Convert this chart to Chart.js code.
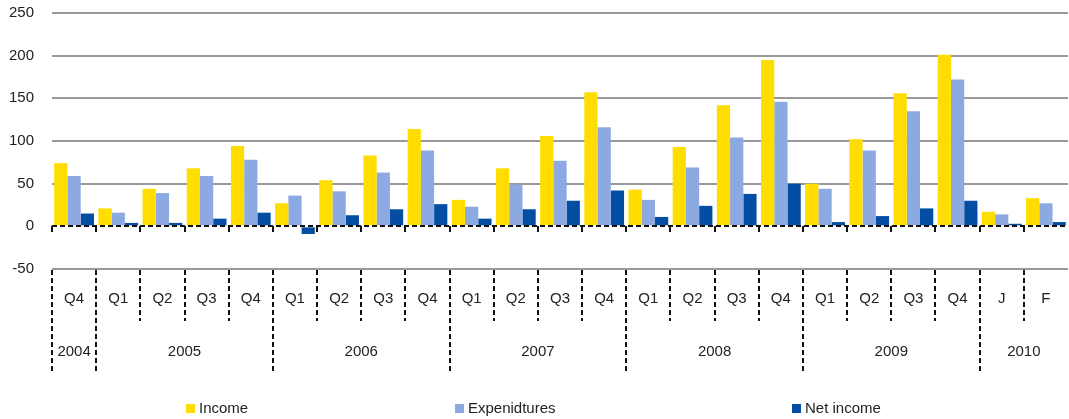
<!DOCTYPE html>
<html>
<head>
<meta charset="utf-8">
<script src="https://cdn.jsdelivr.net/npm/chart.js@4/dist/chart.umd.min.js"></script>
<style>
  html, body { margin: 0; padding: 0; background: #fff; }
  #wrap { position: relative; width: 1069px; height: 419px; }
  #legend { position: absolute; top: 399px; left: 0; width: 1069px; height: 20px;
            font: 15px "Liberation Sans", Arial, sans-serif; color: #222; }
  #legend span.item { position: absolute; top: 0; white-space: nowrap; }
  #legend span.box { display: inline-block; width: 9px; height: 9px; margin-right: 4px; vertical-align: 0px; }
</style>
</head>
<body>
<div id="wrap">
  <canvas id="chart" width="1069" height="419"></canvas>
  <div id="legend"></div>
</div>
<script>
// periods shown on the category axis
const periods = ['Q4', 'Q1', 'Q2', 'Q3', 'Q4', 'Q1', 'Q2', 'Q3', 'Q4', 'Q1', 'Q2', 'Q3', 'Q4',
                 'Q1', 'Q2', 'Q3', 'Q4', 'Q1', 'Q2', 'Q3', 'Q4', 'J', 'F'];
// years and how many periods fall in each
const years = ['2004', '2005', '2006', '2007', '2008', '2009', '2010'];
const yearSpans = [1, 4, 4, 4, 4, 4, 2];

const income = [74, 21, 44, 68, 94, 27, 54, 83, 114, 31, 68, 106, 157, 43, 93, 142, 195, 50, 102, 156, 201, 17, 33];
const expenditures = [59, 16, 39, 59, 78, 36, 41, 63, 89, 23, 49, 77, 116, 31, 69, 104, 146, 44, 89, 135, 172, 14, 27];
const netIncome = [15, 4, 4, 9, 16, -9, 13, 20, 26, 9, 20, 30, 42, 11, 24, 38, 50, 5, 12, 21, 30, 3, 5];

const yTicks = [-50, 0, 50, 100, 150, 200, 250];

const seriesNames = ['Income', 'Expenidtures', 'Net income'];
const seriesColors = ['#FFDD00', '#8CA9E1', '#034EA2'];

const FONT = '"Liberation Sans", Arial, sans-serif';

// dashed zero line, dividers under the axis and year labels
const axisDecor = {
    id: 'axisDecor',
    afterDatasetsDraw(chart) {
        const { ctx, scales: { x, y }, chartArea } = chart;
        const step = x.width / periods.length;
        const y0 = Math.round(y.getPixelForValue(0));
        const yBottom = chartArea.bottom;

        ctx.save();
        ctx.strokeStyle = '#111';
        ctx.lineWidth = 2;

        // zero line
        ctx.setLineDash([5, 3]);
        ctx.beginPath();
        ctx.moveTo(chartArea.left, y0);
        ctx.lineTo(chartArea.right, y0);
        ctx.stroke();

        // small ticks under zero line
        ctx.setLineDash([]);
        for (let i = 0; i < periods.length; i++) {
            const bx = Math.round(x.getPixelForValue(i) - step / 2);
            ctx.beginPath();
            ctx.moveTo(bx, y0);
            ctx.lineTo(bx, y0 + 6);
            ctx.stroke();
        }

        // year boundaries
        const yearStarts = [];
        let idx = 0;
        yearSpans.forEach(n => { yearStarts.push(idx); idx += n; });

        ctx.setLineDash([5, 3]);
        for (let i = 0; i < periods.length; i++) {
            const bx = Math.round(x.getPixelForValue(i) - step / 2);
            const isYear = yearStarts.includes(i);
            ctx.beginPath();
            ctx.moveTo(bx, yBottom + 1);
            ctx.lineTo(bx, isYear ? yBottom + 105 : yBottom + 52);
            ctx.stroke();
        }

        // year labels
        ctx.setLineDash([]);
        ctx.fillStyle = '#222';
        ctx.font = '15px ' + FONT;
        ctx.textAlign = 'center';
        ctx.textBaseline = 'middle';
        years.forEach((yr, k) => {
            const first = yearStarts[k];
            const last = first + yearSpans[k] - 1;
            const cx = (x.getPixelForValue(first) + x.getPixelForValue(last)) / 2;
            ctx.fillText(yr, cx, yBottom + 83);
        });
        ctx.restore();
    }
};

const ctx = document.getElementById('chart').getContext('2d');

new Chart(ctx, {
    type: 'bar',
    data: {
        labels: periods,
        datasets: [
            { label: seriesNames[0], data: income, backgroundColor: seriesColors[0] },
            { label: seriesNames[1], data: expenditures, backgroundColor: seriesColors[1] },
            { label: seriesNames[2], data: netIncome, backgroundColor: seriesColors[2] }
        ]
    },
    options: {
        responsive: false,
        animation: false,
        layout: { padding: { top: 13, right: 1, left: 0, bottom: 0 } },
        datasets: {
            bar: {
                categoryPercentage: 0.9,
                barPercentage: 1,
                borderWidth: 0
            }
        },
        plugins: {
            legend: { display: false },
            tooltip: { enabled: false }
        },
        scales: {
            x: {
                grid: { display: false, drawTicks: false },
                border: { display: false },
                ticks: {
                    autoSkip: false,
                    maxRotation: 0,
                    padding: 21,
                    color: '#222',
                    font: { family: FONT, size: 15 }
                },
                afterFit: scale => { scale.height = 150; scale.paddingLeft = 0; scale.paddingRight = 0; }
            },
            y: {
                min: -50,
                max: 250,
                afterBuildTicks: scale => { scale.ticks = yTicks.map(v => ({ value: v })); },
                grid: {
                    drawTicks: false,
                    lineWidth: 2,
                    color: c => (c.tick && c.tick.value === 0) ? 'rgba(0,0,0,0)' : '#999999'
                },
                border: { display: false },
                ticks: {
                    padding: 18,
                    color: '#222',
                    font: { family: FONT, size: 15 }
                },
                afterFit: scale => { scale.width = 52; scale.paddingTop = 0; scale.paddingBottom = 0; }
            }
        }
    },
    plugins: [axisDecor]
});

// legend placed like the original
const legendPos = [186, 455, 792];
const legend = document.getElementById('legend');
seriesNames.forEach((name, i) => {
    const item = document.createElement('span');
    item.className = 'item';
    item.style.left = legendPos[i] + 'px';
    const box = document.createElement('span');
    box.className = 'box';
    box.style.background = seriesColors[i];
    item.appendChild(box);
    item.appendChild(document.createTextNode(name));
    legend.appendChild(item);
});
</script>
</body>
</html>
